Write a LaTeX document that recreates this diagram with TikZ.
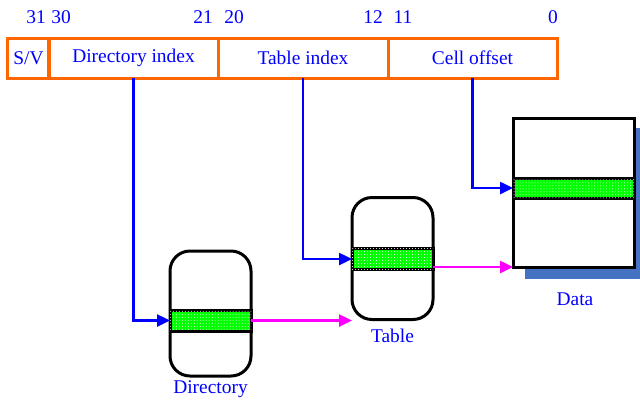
\documentclass[tikz,border=0pt]{standalone}
\usepackage{fontspec}
\setmainfont{Liberation Serif}
\usetikzlibrary{arrows.meta,patterns}
\definecolor{fieldorange}{RGB}{255,102,0}
\definecolor{textblue}{RGB}{0,0,255}
\definecolor{bandgreen}{RGB}{0,255,0}
\definecolor{linkpink}{RGB}{255,0,255}
\definecolor{shadowblue}{RGB}{70,114,196}
\tikzstyle{field} = [draw=fieldorange, line width=3bp, rectangle,
    minimum height=40bp, inner sep=0, outer sep=0, text=textblue]
\tikzstyle{bitno} = [text=textblue, inner sep=0]
\tikzstyle{tablebox} = [draw=black, fill=white, line width=3bp, rectangle,
    rounded corners=20bp, minimum width=81bp, inner sep=0, outer sep=0]
\tikzstyle{band} = [draw=black, fill=bandgreen, line width=3bp, rectangle,
    minimum height=21bp, inner sep=0, outer sep=0,
    postaction={pattern=dots, pattern color=white}]
\tikzstyle{ptr} = [draw=textblue, line width=2.5bp, -{Triangle[length=13bp,width=12bp]}]
\tikzstyle{link} = [draw=linkpink, line width=2.5bp, -{Triangle[length=13bp,width=12bp]}]
\tikzstyle{caption} = [text=textblue, inner sep=0]
\begin{document}
\begin{tikzpicture}[x=1bp, y=-1bp, font=\fontsize{19.5}{22}\selectfont]
\useasboundingbox (0,0) rectangle (640,401);
\node[field, minimum width=41bp] (sv) at (28.5,58) {S/V};
\node[field, minimum width=169bp] (dir) at (133.5,58) {Directory index};
\node[field, minimum width=170bp] (tab) at (303,58) {Table index};
\node[field, minimum width=169bp] (cell) at (472.5,58) {Cell offset};
\node[bitno] (b31) at (36,17) {31};
\node[bitno] (b30) at (61,17) {30};
\node[bitno] (b21) at (203,17) {21};
\node[bitno] (b20) at (234,17) {20};
\node[bitno] (b12) at (373,17) {12};
\node[bitno] (b11) at (403,17) {11};
\node[bitno] (b0) at (553,17) {0};
\node[tablebox, minimum height=125bp] (dirbox) at (210.5,313.5) {};
\node[band, minimum width=81bp] (dband) at (210.5,320.5) {};
\node[caption] (dircap) at (210.5,389) {Directory};
\node[tablebox, minimum height=122bp] (tabbox) at (392.5,258.5) {};
\node[band, minimum width=81bp] (tband) at (392.5,259) {};
\node[caption] (tabcap) at (392.5,336) {Table};
\fill[shadowblue] (525,128) rectangle (640,279);
\node[draw=black, fill=white, line width=3bp, minimum width=121bp,
    minimum height=149bp, inner sep=0, outer sep=0] (data) at (573.5,192.5) {};
\node[band, minimum width=121bp, minimum height=20bp] (databand) at (573.5,188) {};
\node[caption] (datacap) at (575,299) {Data};
\draw[ptr] (dir.south) |- (dband.west);
\draw[ptr] (tab.south) |- (tband.west);
\draw[ptr] (cell.south) |- (databand.west);
\draw[link] (dband.east) -- (dband.east -| tabbox.west);
\draw[link] (tband.east |- data.south) -- (data.south west);
\end{tikzpicture}
\end{document}
